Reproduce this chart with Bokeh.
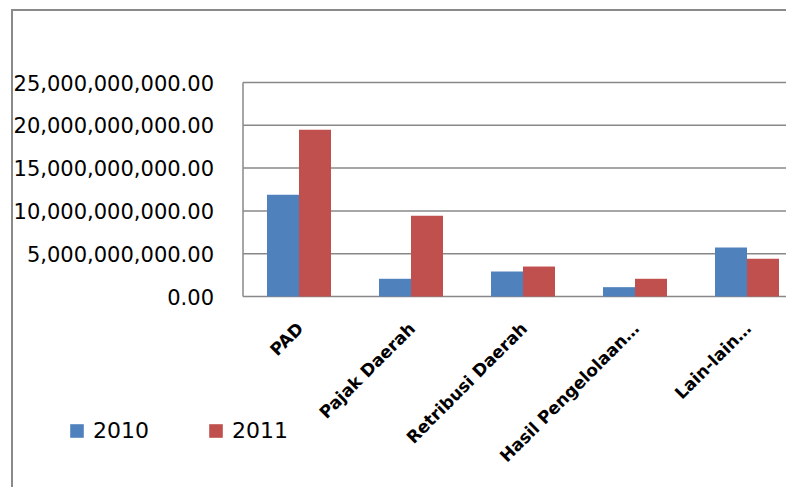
import math
from bokeh.plotting import figure
from bokeh.models import Range1d, Legend, LegendItem
from bokeh.core.properties import value
from bokeh.embed import file_html
from bokeh.resources import INLINE

# ---- data ----
categories = ["PAD", "Pajak Daerah", "Retribusi Daerah", "Hasil Pengelolaan…", "Lain-lain…"]
values_2010 = [11.9e9, 2.07e9, 2.92e9, 1.09e9, 5.72e9]
values_2011 = [19.47e9, 9.43e9, 3.5e9, 2.07e9, 4.4e9]
series_names = ["2010", "2011"]
y_ticks = [0, 5e9, 10e9, 15e9, 20e9, 25e9]
y_tick_labels = ["0.00", "5,000,000,000.00", "10,000,000,000.00",
                 "15,000,000,000.00", "20,000,000,000.00", "25,000,000,000.00"]

# ---- layout constants (pixels) ----
W, H = 775, 478            # canvas size
PLOT_LEFT, PLOT_TOP, PLOT_BOTTOM = 229.5, 71, 285   # plot area inside canvas
CAT_PX = 112               # pixels per category
Y_MAX = y_ticks[-1]
ypx = (PLOT_BOTTOM - PLOT_TOP) / Y_MAX   # pixels per unit value

x0 = -0.5                                  # left edge of plot area in data units
x_start = x0 - PLOT_LEFT / CAT_PX
x_end = x0 + (W - PLOT_LEFT) / CAT_PX
y_end = Y_MAX + PLOT_TOP / ypx
y_start = -(H - PLOT_BOTTOM) / ypx

GRID = "#888888"
BLUE = "#4F81BD"
RED = "#C0504D"

p = figure(width=W, height=H, output_backend="svg", toolbar_location=None,
           x_range=Range1d(x_start, x_end), y_range=Range1d(y_start, y_end),
           min_border=0)
p.margin = (9, 0, 0, 11)
p.styles = {"border-left": "2px solid #8a8a8a", "border-top": "2px solid #8a8a8a"}
p.outline_line_color = None
p.axis.visible = False
p.grid.visible = False
p.background_fill_color = "white"
p.border_fill_color = "white"

idx = list(range(len(categories)))

# gridlines (including the category axis line at 0) and value axis line
p.segment(x0=[x0] * len(y_ticks), x1=[x_end] * len(y_ticks), y0=y_ticks, y1=y_ticks,
          line_color=GRID, line_width=1.5)
p.segment(x0=[x0], x1=[x0], y0=[y_ticks[0]], y1=[Y_MAX], line_color=GRID, line_width=1.5)

bw = 32 / CAT_PX
r1 = p.vbar(x=[i - bw / 2 for i in idx], top=values_2010, width=bw,
            fill_color=BLUE, line_color=None)
r2 = p.vbar(x=[i + bw / 2 for i in idx], top=values_2011, width=bw,
            fill_color=RED, line_color=None)

# value axis labels
p.text(x=[x0 - 29 / CAT_PX] * len(y_ticks), y=y_ticks, text=y_tick_labels,
       text_align="right", text_baseline="middle",
       text_font=value("DejaVu Sans"), text_font_size="21px", text_color="black")

# category labels, rotated 45 degrees
p.text(x=[i + 0.01 for i in idx], y=[-29 / ypx] * len(idx), text=categories,
       angle=math.pi / 4, text_align="right", text_baseline="middle",
       text_font=value("DejaVu Sans"), text_font_style="bold",
       text_font_size="17px", text_color="black")

legend = Legend(items=[LegendItem(label=series_names[0], renderers=[r1]),
                       LegendItem(label=series_names[1], renderers=[r2])],
                orientation="horizontal", location=(55, 46),
                glyph_width=17, glyph_height=17, label_standoff=8, spacing=58,
                padding=0, margin=0, border_line_color=None,
                background_fill_alpha=0,
                label_text_font="DejaVu Sans", label_text_font_size="22px",
                label_text_color="black")
p.add_layout(legend, "center")

open("out.html", "w").write(file_html(p, INLINE))
